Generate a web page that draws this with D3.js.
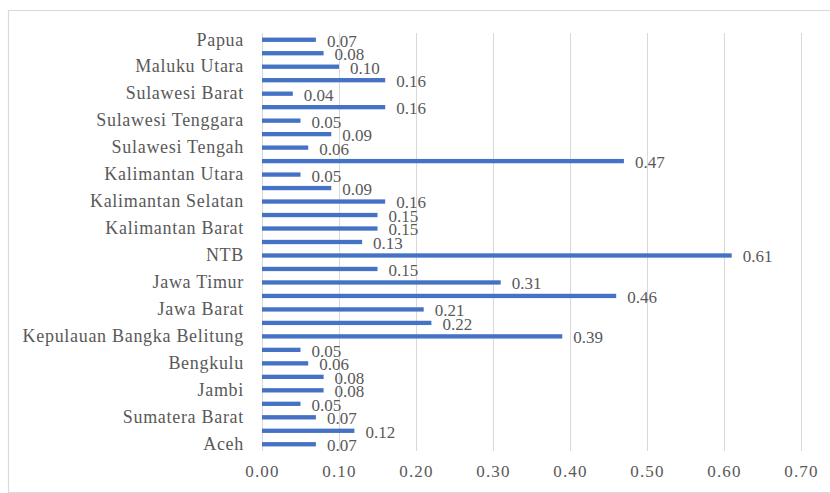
<!DOCTYPE html>
<html>
<head>
<meta charset="utf-8">
<script src="https://cdn.jsdelivr.net/npm/d3@7"></script>
<style>
  html, body { margin: 0; padding: 0; background: #fff; }
  svg { display: block; }
  svg text { font-family: "Liberation Serif", Tinos, "Times New Roman", Times, "DejaVu Serif", serif !important; fill: #595959; }
</style>
</head>
<body>
<div id="chart"></div>
<script>
// Provinces from bottom (Aceh) to top (Papua)
const provinces = [
  "Aceh", "Sumatera Utara", "Sumatera Barat", "Riau", "Jambi", "Sumatera Selatan",
  "Bengkulu", "Lampung", "Kepulauan Bangka Belitung", "Kepulauan Riau", "Jawa Barat",
  "Jawa Tengah", "Jawa Timur", "Bali", "NTB", "NTT", "Kalimantan Barat",
  "Kalimantan Tengah", "Kalimantan Selatan", "Kalimantan Timur", "Kalimantan Utara",
  "Sulawesi Utara", "Sulawesi Tengah", "Sulawesi Selatan", "Sulawesi Tenggara",
  "Gorontalo", "Sulawesi Barat", "Maluku", "Maluku Utara", "Papua Barat", "Papua"
];
const values = [
  0.07, 0.12, 0.07, 0.05, 0.08, 0.08,
  0.06, 0.05, 0.39, 0.22, 0.21,
  0.46, 0.31, 0.15, 0.61, 0.13, 0.15,
  0.15, 0.16, 0.09, 0.05,
  0.47, 0.06, 0.09, 0.05,
  0.16, 0.04, 0.16, 0.10, 0.08, 0.07
];
const xTicks = [0, 0.1, 0.2, 0.3, 0.4, 0.5, 0.6, 0.7];

const W = 830, H = 493;
const margin = { left: 262, right: 29, top: 33, bottom: 42 };

const svg = d3.select("#chart").append("svg")
  .attr("width", W).attr("height", H);

// outer frame
svg.append("path")
  .attr("d", `M${W + 2},10.5 H8.5 V492.5 H${W + 2}`)
  .attr("fill", "none").attr("stroke", "#d9d9d9").attr("stroke-width", 1.2);

const x = d3.scaleLinear().domain([0, 0.7]).range([margin.left, W - margin.right]);
const y = d3.scaleBand()
  .domain(provinces.slice().reverse())
  .range([margin.top, H - margin.bottom])
  .paddingInner(0.68).paddingOuter(0.34);

// vertical gridlines
svg.append("g").selectAll("line").data(xTicks).join("line")
  .attr("x1", d => Math.round(x(d)) + 0.5).attr("x2", d => Math.round(x(d)) + 0.5)
  .attr("y1", margin.top).attr("y2", H - margin.bottom)
  .attr("stroke", "#d9d9d9").attr("stroke-width", 1);

// x axis labels
const xAxis = d3.axisBottom(x).tickValues(xTicks).tickFormat(d3.format(".2f")).tickSize(0).tickPadding(14);
const gx = svg.append("g").attr("transform", `translate(0,${H - margin.bottom})`).call(xAxis);
gx.attr("font-family", null);
gx.select(".domain").remove();
gx.selectAll("text").style("font-size", "17px").style("letter-spacing", "1.2px").attr("fill", "#595959");

// y axis labels: every other province
const yAxis = d3.axisLeft(y)
  .tickValues(provinces.filter((d, i) => i % 2 === 0))
  .tickSize(0).tickPadding(18);
const gy = svg.append("g").attr("transform", `translate(${margin.left},0)`).call(yAxis);
gy.attr("font-family", null);
gy.select(".domain").remove();
gy.selectAll("text").style("font-size", "18px").style("letter-spacing", "0.7px").attr("fill", "#595959");

// bars
const rows = provinces.map((p, i) => ({ p, v: values[i] }));
svg.append("g").selectAll("rect").data(rows).join("rect")
  .attr("x", x(0))
  .attr("y", d => y(d.p))
  .attr("width", d => x(d.v) - x(0))
  .attr("height", y.bandwidth())
  .attr("fill", "#4472c4");

// value labels
svg.append("g").selectAll("text").data(rows).join("text")
  .attr("x", d => x(d.v) + 11)
  .attr("y", d => y(d.p) + y.bandwidth() / 2 + 1)
  .attr("dy", "0.35em")
  .style("font-size", "17px")
  .text(d => d3.format(".2f")(d.v));
</script>
</body>
</html>
